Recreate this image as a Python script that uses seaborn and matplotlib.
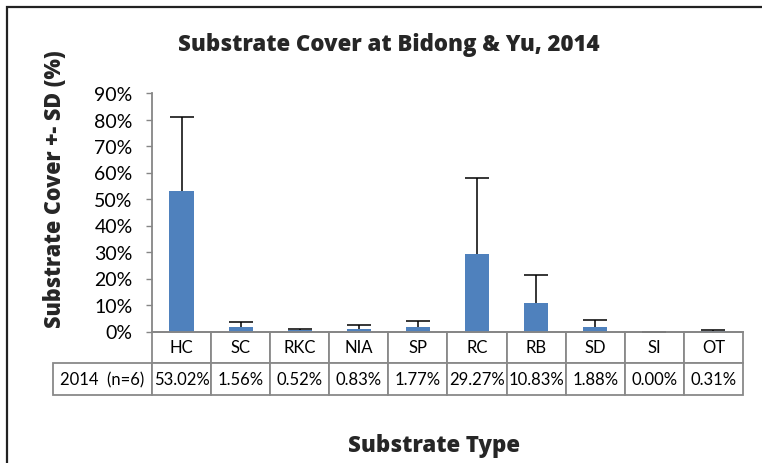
import numpy as np
import pandas as pd
import matplotlib
matplotlib.use("Agg")
import matplotlib.pyplot as plt
from matplotlib.patches import Rectangle
from matplotlib.ticker import FuncFormatter
import seaborn as sns

categories = ["HC", "SC", "RKC", "NIA", "SP", "RC", "RB", "SD", "SI", "OT"]
cover = [53.02, 1.56, 0.52, 0.83, 1.77, 29.27, 10.83, 1.88, 0.00, 0.31]
sd = [27.8, 2.1, 0.45, 1.6, 2.3, 28.6, 10.6, 2.6, 0.0, 0.4]
row_label = "2014  (n=6)"

df = pd.DataFrame({"type": categories, "cover": cover, "sd": sd})

sns.set_style("white")
plt.rcParams["font.family"] = ["Lato", "DejaVu Sans"]
bold_font = ["Open Sans", "DejaVu Sans"]

W, H = 762, 464
fig = plt.figure(figsize=(W / 100, H / 100), dpi=100)
ax = fig.add_axes([152 / W, 1 - 332.5 / H, (743 - 152) / W, (332.5 - 94) / H])

bar_col = "#4F81BD"
sns.barplot(data=df, x="type", y="cover", color=bar_col, width=0.41,
            saturation=1, errorbar=None, ax=ax, edgecolor="none")
x = np.arange(len(categories))
eb = ax.errorbar(x, df["cover"], yerr=[np.zeros(len(sd)), df["sd"]], fmt="none",
                 ecolor="black", elinewidth=1.1, capsize=8.5, capthick=1.1)
# only the upper caps, like the original
eb[1][0].set_visible(False)

ax.set_ylim(0, 90)
ax.set_xlim(-0.5, len(categories) - 0.5)
ax.set_yticks(np.arange(0, 91, 10))
ax.yaxis.set_major_formatter(FuncFormatter(lambda v, p: f"{v:.0f}%"))
ax.tick_params(axis="y", left=True, length=4, width=1, color="#868686",
               labelsize=14, pad=10, labelcolor="black")
ax.set_xticks([])
ax.set_xlabel("")
ax.set_ylabel("")
for s in ["top", "right"]:
    ax.spines[s].set_visible(False)
for s in ["left", "bottom"]:
    ax.spines[s].set_color("#868686")
    ax.spines[s].set_linewidth(1.3)

# data table under the axis
cell_text = [[""] + categories, [row_label] + [f"{v:.2f}%" for v in cover]]
col_w = [99] + [59.1] * len(categories)
tbl = ax.table(cellText=cell_text, colWidths=col_w, cellLoc="center",
               bbox=[-99 / 591, -63.5 / 238.5, 690 / 591, 63.5 / 238.5])
tbl.auto_set_font_size(False)
tbl.set_fontsize(12)
for (r, c), cell in tbl.get_celld().items():
    cell.set_edgecolor("#898989")
    cell.set_linewidth(1.3)
    cell.get_text().set_color("black")
    if r == 0 and c == 0:
        cell.visible_edges = "open"

fig.text(389 / W, 1 - 45 / H, "Substrate Cover at Bidong & Yu, 2014",
         ha="center", va="center", fontsize=16, fontweight="heavy", family=bold_font)
fig.text(55 / W, 1 - 189 / H, "Substrate Cover +- SD (%)", rotation=90,
         ha="center", va="center", fontsize=15.5, fontweight="heavy", family=bold_font)
fig.text(434 / W, 1 - 446 / H, "Substrate Type",
         ha="center", va="center", fontsize=16, fontweight="heavy", family=bold_font)

fig.add_artist(Rectangle((7 / W, -0.2), 2, 1 - 8 / H + 0.2,
                         transform=fig.transFigure, fill=False,
                         edgecolor="#222222", lw=1.6))

fig.savefig("out.png", dpi=100)
